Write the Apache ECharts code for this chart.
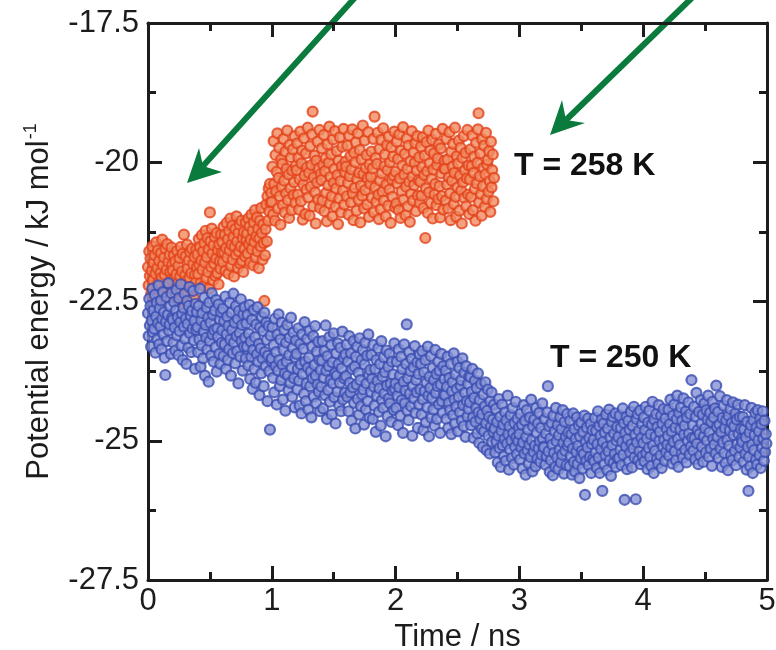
<!DOCTYPE html>
<html>
<head>
<meta charset="utf-8">
<script src="https://cdn.jsdelivr.net/npm/echarts@6/dist/echarts.min.js"></script>
<style>
  html, body { margin: 0; padding: 0; background: #ffffff; }
  #chart { width: 776px; height: 650px; }
</style>
</head>
<body>
<div id="chart"></div>
<script>
// Potential energy per molecule along two MD trajectories (frames every 0.005 ns)
const frameStep = 0.005; // ns

// T = 258 K trajectory, kJ/mol
const energy258_0to1 = [
  -21.88,-22.21,-21.6,-22.04,-21.73,-22.37,-21.95,-21.51,-22.12,-21.81,
  -22.43,-21.67,-22.0,-21.44,-22.28,-21.9,-21.58,-22.16,-21.77,-22.49,
  -21.99,-21.63,-22.08,-21.39,-21.85,-22.32,-21.71,-22.02,-21.55,-22.24,
  -21.93,-21.47,-22.19,-21.79,-22.4,-21.66,-21.97,-22.11,-21.53,-21.84,
  -21.94,-22.28,-21.67,-22.09,-21.78,-22.41,-22.01,-21.59,-22.18,-21.86,
  -22.47,-21.72,-22.05,-21.52,-22.33,-21.96,-21.64,-22.22,-21.3,-22.53,
  -22.03,-21.69,-22.14,-21.48,-21.91,-22.36,-21.76,-22.07,-21.61,-22.29,
  -21.99,-21.55,-22.25,-21.83,-22.44,-21.7,-22.02,-22.16,-21.57,-21.89,
  -21.65,-22.01,-21.38,-21.84,-21.52,-22.17,-21.76,-21.31,-21.93,-21.6,
  -22.22,-21.45,-21.8,-21.23,-22.08,-21.7,-21.36,-21.97,-21.56,-22.27,
  -20.9,-21.42,-21.88,-21.19,-21.64,-22.12,-21.49,-21.82,-21.34,-22.04,
  -21.73,-21.27,-21.99,-21.58,-22.19,-21.47,-21.78,-21.91,-21.3,-21.62,
  -21.43,-21.79,-21.16,-21.62,-21.3,-21.95,-21.54,-21.09,-21.71,-21.38,
  -22.0,-21.23,-21.58,-21.01,-21.86,-21.48,-21.14,-21.75,-21.34,-22.05,
  -21.52,-21.2,-21.66,-20.97,-21.42,-21.9,-21.27,-21.6,-21.12,-21.82,
  -21.51,-21.05,-21.77,-21.36,-21.97,-21.25,-21.56,-21.69,-21.08,-21.4,
  -21.28,-21.64,-21.01,-21.47,-21.15,-21.8,-21.39,-20.94,-21.56,-21.23,
  -21.85,-21.08,-21.43,-20.86,-21.71,-21.33,-20.99,-21.6,-21.19,-21.9,
  -21.37,-21.05,-21.51,-20.82,-21.27,-21.75,-21.12,-21.45,-22.49,-21.67,
  -21.2,-20.76,-21.42,-20.61,-21.05,-20.47,-20.88,-20.39,-20.72,-20.55
];
const energy258_1to2 = [
  -20.71,-20.08,-20.94,-19.62,-20.39,-21.05,-19.87,-20.52,-20.17,-19.48,
  -20.83,-20.28,-19.74,-20.61,-21.12,-19.95,-20.44,-20.03,-20.77,-19.58,
  -20.33,-20.9,-19.81,-20.56,-20.12,-19.43,-20.68,-20.22,-21.0,-19.69,
  -20.47,-19.91,-20.86,-20.15,-19.77,-20.59,-20.36,-19.53,-20.73,-20.06,
  -20.14,-19.66,-20.58,-19.92,-20.85,-20.31,-19.45,-20.7,-20.02,-19.79,
  -21.03,-20.4,-19.57,-20.24,-20.93,-19.84,-20.49,-20.09,-19.38,-20.63,
  -20.19,-20.96,-19.71,-20.44,-20.05,-19.5,-19.09,-20.79,-20.27,-19.88,
  -20.54,-21.1,-19.97,-20.36,-19.63,-20.67,-20.11,-19.42,-20.82,-20.21,
  -20.32,-19.75,-20.69,-20.04,-19.51,-20.88,-20.16,-19.93,-20.55,-21.06,
  -19.68,-20.41,-20.01,-19.36,-20.74,-20.26,-19.86,-20.61,-20.97,-19.59,
  -20.37,-20.12,-19.44,-20.8,-20.47,-19.8,-20.23,-21.11,-19.97,-20.65,
  -19.55,-20.34,-20.9,-20.07,-19.72,-20.51,-19.4,-20.76,-20.18,-19.99,
  -20.08,-20.61,-19.7,-20.37,-20.94,-19.52,-20.25,-19.89,-20.72,-20.13,
  -19.41,-20.56,-21.04,-19.83,-20.46,-20.0,-19.64,-20.87,-20.3,-19.48,
  -20.67,-20.19,-19.78,-21.08,-20.42,-19.95,-20.6,-19.34,-20.21,-20.83,
  -19.61,-20.5,-20.1,-19.87,-20.76,-20.29,-19.46,-20.98,-20.04,-20.39,
  -20.26,-19.81,-20.64,-20.11,-19.58,-20.9,-19.18,-20.45,-19.92,-20.71,
  -20.03,-19.47,-20.58,-21.02,-19.76,-20.33,-20.84,-19.6,-20.2,-20.53,
  -19.39,-20.69,-20.07,-19.86,-20.97,-20.4,-19.69,-20.14,-20.78,-19.54,
  -20.49,-20.0,-21.09,-19.73,-20.31,-20.62,-19.9,-20.24,-19.45,-20.81
];
const energy258_2to3 = [
  -20.17,-20.74,-19.63,-20.38,-19.94,-20.86,-19.5,-20.29,-21.0,-19.79,
  -20.52,-20.06,-19.37,-20.67,-20.22,-19.85,-20.95,-20.44,-19.57,-20.12,
  -20.79,-19.7,-20.35,-21.07,-19.98,-20.57,-19.44,-20.26,-20.69,-19.82,
  -20.41,-20.01,-19.66,-20.88,-20.15,-19.53,-20.6,-20.32,-19.91,-20.73,
  -20.35,-19.72,-20.6,-20.09,-19.55,-20.82,-20.23,-19.88,-21.36,-20.47,
  -19.64,-20.16,-20.91,-19.43,-20.54,-20.02,-19.79,-20.73,-20.3,-19.6,
  -21.01,-20.13,-19.84,-20.58,-20.39,-19.49,-20.77,-20.05,-19.93,-20.66,
  -19.68,-20.43,-20.99,-19.75,-20.2,-20.61,-19.4,-20.85,-20.11,-19.97,
  -20.12,-20.69,-19.58,-20.4,-19.95,-20.83,-20.27,-19.46,-20.56,-21.04,
  -19.81,-20.33,-20.08,-19.67,-20.75,-20.19,-19.38,-20.62,-20.98,-19.89,
  -20.45,-20.02,-19.61,-20.87,-20.24,-19.74,-20.51,-21.1,-19.92,-20.36,
  -19.53,-20.64,-20.15,-19.83,-20.79,-20.29,-19.42,-20.58,-20.06,-20.93,
  -20.31,-19.77,-20.62,-20.07,-19.52,-20.86,-20.19,-19.9,-20.48,-21.05,
  -19.65,-20.38,-20.01,-19.41,-19.12,-20.72,-20.25,-19.84,-20.57,-20.96,
  -19.59,-20.43,-20.1,-19.7,-20.8,-20.22,-19.47,-20.66,-20.04,-19.96,
  -20.53,-19.8,-20.34,-20.89,-19.63,-20.45,-20.14,-19.86,-20.7,-20.28
];

// T = 250 K trajectory, kJ/mol
const energy250_0to1 = [
  -22.71,-23.12,-22.45,-22.93,-22.58,-23.31,-22.84,-22.27,-23.05,-22.66,
  -22.99,-22.38,-23.42,-22.77,-22.52,-23.18,-22.89,-22.21,-23.27,-22.62,
  -22.95,-22.48,-23.36,-22.81,-22.33,-23.09,-22.69,-23.51,-23.82,-22.87,
  -22.42,-23.21,-22.74,-22.17,-23.02,-22.91,-22.59,-23.44,-22.35,-22.79,
  -22.83,-23.24,-22.51,-22.97,-23.38,-22.66,-22.29,-23.11,-22.78,-23.46,
  -22.44,-23.03,-22.87,-22.19,-23.29,-22.72,-23.55,-22.61,-22.95,-22.36,
  -23.17,-22.81,-23.62,-22.49,-22.9,-23.33,-22.58,-22.24,-23.07,-22.76,
  -23.41,-22.67,-22.99,-22.31,-23.2,-22.85,-23.71,-22.54,-23.01,-22.69,
  -22.96,-23.41,-22.58,-23.18,-22.27,-23.67,-22.84,-23.29,-22.71,-23.52,
  -23.04,-22.43,-23.83,-22.92,-23.15,-22.61,-23.36,-22.79,-23.94,-22.52,
  -23.21,-22.88,-23.47,-22.35,-23.09,-22.74,-23.58,-23.01,-22.66,-23.32,
  -22.47,-23.76,-22.98,-23.13,-22.55,-23.44,-22.82,-23.62,-22.69,-23.24,
  -23.02,-22.63,-23.48,-22.85,-23.27,-22.41,-23.71,-23.09,-22.77,-23.55,
  -22.94,-23.36,-22.52,-23.18,-23.83,-22.7,-23.01,-23.43,-22.36,-23.24,
  -22.88,-23.61,-22.58,-23.12,-23.39,-22.81,-23.97,-22.67,-23.06,-23.49,
  -22.46,-23.21,-22.92,-23.74,-22.73,-23.31,-22.6,-23.15,-23.52,-22.89,
  -23.31,-22.74,-23.65,-23.08,-22.56,-23.89,-23.22,-23.49,-22.83,-24.07,
  -23.37,-22.65,-23.71,-23.14,-23.96,-22.91,-23.45,-22.6,-23.58,-23.26,
  -24.18,-22.97,-23.34,-23.79,-22.78,-23.52,-23.03,-24.02,-22.7,-23.41,
  -23.66,-22.88,-23.19,-24.29,-23.47,-22.94,-23.75,-24.8,-23.11,-23.57
];
const energy250_1to2 = [
  -23.52,-22.96,-23.87,-23.28,-24.13,-22.81,-23.66,-23.41,-24.35,-23.09,
  -23.74,-22.73,-23.55,-24.02,-23.18,-23.91,-22.88,-23.63,-24.26,-23.37,
  -23.01,-23.79,-24.46,-23.24,-23.58,-22.92,-23.83,-24.09,-23.46,-23.15,
  -23.96,-22.79,-23.69,-24.21,-23.33,-23.06,-23.88,-24.4,-23.5,-23.2,
  -23.44,-24.08,-23.71,-22.98,-23.92,-24.37,-23.26,-23.63,-24.51,-23.09,
  -23.8,-23.35,-24.16,-22.87,-23.58,-24.29,-23.97,-23.17,-23.69,-24.44,
  -23.51,-23.03,-24.02,-23.76,-24.58,-23.31,-23.88,-23.12,-24.21,-23.64,
  -22.94,-23.83,-24.33,-23.4,-23.99,-23.22,-24.12,-23.55,-24.47,-23.73,
  -24.03,-23.56,-23.21,-24.42,-23.87,-23.39,-24.18,-22.93,-23.74,-24.61,
  -23.48,-24.09,-23.66,-23.14,-24.3,-23.91,-23.28,-24.53,-23.59,-23.97,
  -23.07,-24.22,-23.79,-24.69,-23.43,-23.83,-24.12,-23.25,-23.62,-24.37,
  -23.96,-23.33,-24.47,-23.7,-23.04,-24.26,-23.51,-23.88,-24.14,-23.45,
  -23.84,-23.27,-24.21,-23.58,-24.47,-23.12,-23.96,-24.13,-23.43,-24.64,
  -23.71,-24.04,-23.21,-24.32,-23.67,-24.78,-23.49,-23.99,-23.31,-24.25,
  -23.78,-24.53,-23.16,-23.91,-24.38,-23.55,-24.17,-23.37,-24.08,-24.71,
  -23.63,-23.24,-24.44,-23.97,-23.47,-24.29,-23.09,-23.82,-24.59,-23.73,
  -24.12,-23.46,-23.89,-24.61,-23.28,-24.03,-24.37,-23.71,-24.84,-23.55,
  -24.19,-23.93,-23.34,-24.48,-24.06,-23.62,-24.73,-23.21,-24.27,-23.85,
  -24.41,-23.5,-24.15,-23.77,-24.92,-23.38,-24.01,-24.56,-23.67,-24.24,
  -23.44,-24.33,-23.98,-24.66,-23.58,-24.1,-23.81,-24.45,-23.25,-24.07
];
const energy250_2to3 = [
  -23.97,-24.41,-23.58,-24.19,-24.72,-23.36,-24.04,-23.83,-24.55,-23.49,
  -24.27,-23.71,-24.86,-23.94,-23.27,-24.33,-24.1,-23.62,-22.91,-24.46,
  -23.88,-24.63,-23.41,-24.15,-23.75,-24.38,-23.53,-24.91,-24.02,-23.68,
  -24.24,-23.3,-24.5,-23.91,-24.13,-23.59,-24.77,-23.8,-24.35,-23.45,
  -24.08,-23.62,-24.53,-23.39,-24.26,-24.81,-23.77,-24.11,-23.55,-24.67,
  -23.96,-24.4,-23.31,-24.19,-24.92,-23.85,-24.05,-23.48,-24.59,-24.23,
  -23.69,-24.44,-23.91,-24.73,-23.37,-24.14,-23.8,-24.61,-24.02,-23.58,
  -24.35,-23.74,-24.86,-23.99,-23.44,-24.29,-24.5,-23.66,-24.17,-23.89,
  -24.18,-23.74,-24.61,-24.03,-23.49,-24.77,-24.32,-23.87,-24.45,-23.62,
  -24.88,-24.11,-23.95,-24.54,-23.43,-24.26,-24.69,-23.81,-24.39,-24.07,
  -23.58,-24.83,-24.21,-23.69,-24.49,-24.01,-23.91,-24.64,-23.52,-24.36,
  -24.74,-23.78,-24.14,-24.93,-23.66,-24.29,-24.56,-23.98,-24.43,-23.84,
  -24.31,-23.86,-24.72,-24.12,-23.71,-24.58,-24.95,-24.23,-23.92,-24.66,
  -24.41,-24.05,-24.87,-23.79,-24.49,-25.04,-24.27,-24.61,-23.98,-24.79,
  -24.52,-25.11,-24.17,-24.83,-24.38,-23.95,-24.69,-25.17,-24.46,-24.08,
  -24.91,-24.57,-25.23,-24.29,-24.74,-24.13,-25.02,-24.62,-24.84,-24.35,
  -24.78,-25.21,-24.43,-25.02,-24.66,-25.39,-24.91,-24.25,-25.13,-24.57,
  -25.47,-24.82,-24.35,-25.08,-24.71,-25.28,-24.97,-24.49,-25.36,-24.63,
  -25.05,-24.19,-24.88,-25.52,-24.74,-25.16,-24.54,-24.99,-25.31,-24.41,
  -24.86,-25.43,-24.68,-25.11,-24.3,-24.94,-25.24,-24.6,-25.01,-24.77
];
const energy250_3to4 = [
  -24.88,-25.34,-24.52,-25.12,-24.71,-25.5,-25.03,-24.36,-25.23,-24.64,
  -25.61,-24.93,-24.45,-25.17,-24.8,-25.41,-25.07,-24.58,-25.29,-24.26,
  -24.99,-25.55,-24.74,-25.2,-24.62,-25.09,-25.46,-24.41,-24.86,-25.32,
  -24.69,-25.14,-24.5,-25.01,-25.38,-24.77,-25.25,-24.33,-24.96,-25.11,
  -25.12,-24.61,-25.43,-24.87,-25.28,-24.49,-24.02,-25.19,-24.74,-25.56,
  -24.96,-25.35,-24.68,-25.07,-25.62,-24.55,-25.22,-24.83,-25.47,-24.41,
  -25.01,-25.3,-24.72,-25.51,-24.9,-25.16,-24.58,-25.39,-24.79,-25.25,
  -24.45,-25.04,-25.59,-24.66,-25.18,-24.93,-25.44,-24.52,-25.09,-24.85,
  -25.03,-25.46,-24.64,-25.27,-24.88,-25.61,-25.14,-24.51,-25.38,-24.79,
  -25.55,-24.97,-25.2,-24.58,-25.42,-25.09,-24.72,-25.67,-24.92,-25.31,
  -24.67,-25.18,-25.5,-24.84,-25.24,-24.55,-25.97,-25.02,-25.36,-24.76,
  -25.12,-24.6,-25.44,-24.95,-25.29,-24.7,-25.58,-25.06,-24.81,-25.33,
  -24.98,-25.37,-24.59,-25.21,-24.82,-25.49,-25.06,-24.47,-25.3,-24.73,
  -25.58,-24.91,-25.15,-24.62,-25.9,-25.02,-24.69,-25.42,-24.85,-25.26,
  -24.53,-25.11,-25.53,-24.78,-25.19,-24.44,-25.35,-24.94,-25.63,-24.66,
  -25.08,-24.57,-25.4,-24.87,-25.24,-24.51,-25.47,-25.0,-24.75,-25.32,
  -24.93,-25.31,-24.55,-25.16,-24.77,-25.44,-25.02,-24.42,-25.25,-24.68,
  -26.06,-24.86,-25.1,-24.57,-25.51,-24.97,-24.64,-25.37,-24.8,-25.21,
  -24.48,-25.06,-25.48,-24.73,-25.14,-24.39,-25.3,-24.89,-26.05,-24.61,
  -25.03,-24.52,-25.35,-24.82,-25.19,-24.46,-25.42,-24.95,-24.7,-25.27
];
const energy250_4to5 = [
  -25.04,-24.58,-25.37,-24.81,-24.39,-25.22,-24.96,-25.51,-24.67,-25.13,
  -24.46,-25.29,-24.88,-25.45,-24.71,-24.3,-25.08,-25.58,-24.62,-25.18,
  -24.92,-24.52,-25.33,-24.75,-25.41,-24.36,-25.0,-24.84,-25.26,-24.55,
  -25.49,-24.69,-25.11,-24.43,-24.98,-25.36,-24.6,-25.2,-24.79,-25.07,
  -24.91,-24.44,-25.27,-24.7,-24.26,-25.12,-24.83,-25.41,-24.55,-25.02,
  -24.35,-25.19,-24.76,-25.35,-24.61,-24.19,-24.97,-25.47,-24.5,-25.08,
  -24.8,-24.4,-25.23,-24.64,-25.31,-24.24,-24.89,-24.73,-25.16,-24.47,
  -25.39,-24.58,-25.0,-24.31,-24.87,-25.25,-24.52,-25.1,-23.91,-24.95,
  -24.72,-25.18,-24.39,-24.96,-25.33,-24.57,-24.14,-25.05,-24.81,-25.42,
  -24.48,-24.88,-25.26,-24.27,-24.69,-25.11,-24.53,-25.38,-24.92,-24.33,
  -24.78,-25.21,-24.45,-25.0,-24.62,-24.19,-25.29,-24.85,-24.5,-25.14,
  -24.66,-25.45,-24.3,-24.97,-24.58,-25.07,-24.42,-25.23,-24.01,-24.75,
  -24.93,-24.48,-25.31,-24.71,-24.2,-25.14,-24.84,-25.47,-24.59,-25.03,
  -24.37,-25.22,-24.77,-25.4,-24.63,-24.27,-24.99,-25.53,-24.55,-25.09,
  -24.81,-24.43,-25.26,-24.68,-25.35,-24.31,-24.9,-24.74,-25.18,-24.51,
  -25.44,-24.62,-25.06,-24.35,-24.88,-25.29,-24.57,-25.12,-24.79,-24.97,
  -25.02,-24.57,-25.38,-24.8,-24.36,-25.23,-24.94,-25.52,-24.66,-25.11,
  -25.9,-25.29,-24.85,-25.46,-24.72,-24.41,-25.07,-25.58,-24.63,-25.17,
  -24.9,-24.5,-25.34,-24.76,-25.43,-24.45,-24.99,-24.83,-25.25,-24.6,
  -25.49,-24.7,-25.13,-24.47,-24.96,-25.36,-24.64,-25.2,-24.88,-25.05
];

const seriesLabels = ['T = 258 K', 'T = 250 K'];

const energy258 = [].concat(energy258_0to1, energy258_1to2, energy258_2to3);
const energy250 = [].concat(energy250_0to1, energy250_1to2, energy250_2to3, energy250_3to4, energy250_4to5);

function framesToPoints(values) {
  return values.map((e, i) => [Number((i * frameStep).toFixed(3)), e]);
}

const FONT = '"Liberation Sans", Arial, Helvetica, sans-serif';
const INK = '#1c1c1c';
const ARROW_GREEN = '#0a7a3d';

const chart = echarts.init(document.getElementById('chart'), null, { renderer: 'canvas' });

const frameLine = { show: true, onZero: false, lineStyle: { color: INK, width: 3 } };
const majorTick = { show: true, inside: true, length: 14, lineStyle: { color: INK, width: 3 } };
const minorTick = { show: true, splitNumber: 2, length: 8, lineStyle: { color: INK, width: 3 } };

function arrow(tail, tip, wingA, wingB, notch) {
  return {
    type: 'group',
    silent: true,
    children: [
      { type: 'line', shape: { x1: tail[0], y1: tail[1], x2: notch[0], y2: notch[1] },
        style: { stroke: ARROW_GREEN, lineWidth: 6 } },
      { type: 'polygon', shape: { points: [tip, wingA, notch, wingB] },
        style: { fill: ARROW_GREEN } }
    ]
  };
}

chart.setOption({
  animation: false,
  backgroundColor: '#ffffff',
  textStyle: { fontFamily: FONT },
  grid: { left: 148, right: 9, top: 23, bottom: 70, outerBoundsMode: 'none', containLabel: false },
  xAxis: [
    {
      type: 'value', position: 'bottom', min: 0, max: 5, interval: 1,
      axisLine: frameLine, axisTick: majorTick, minorTick: minorTick,
      splitLine: { show: false }, minorSplitLine: { show: false },
      axisLabel: { color: INK, fontSize: 31, fontFamily: FONT, margin: 6 },
      name: 'Time / ns', nameLocation: 'middle', nameGap: 29,
      nameTextStyle: { color: INK, fontSize: 31, fontFamily: FONT }
    },
    {
      type: 'value', position: 'top', min: 0, max: 5, interval: 1,
      axisLine: frameLine, axisTick: majorTick, minorTick: minorTick,
      splitLine: { show: false }, axisLabel: { show: false }
    }
  ],
  yAxis: [
    {
      type: 'value', position: 'left', min: -27.5, max: -17.5, interval: 2.5,
      axisLine: frameLine, axisTick: majorTick, minorTick: minorTick,
      splitLine: { show: false }, minorSplitLine: { show: false },
      axisLabel: { color: INK, fontSize: 31, fontFamily: FONT, margin: 9 },
      name: '{n|Potential energy / kJ mol}{s|-1}',
      nameLocation: 'middle', nameRotate: 90, nameGap: 92,
      nameTextStyle: {
        color: INK, fontFamily: FONT,
        rich: {
          n: { fontSize: 31, color: INK, fontFamily: FONT },
          s: { fontSize: 18, color: INK, fontFamily: FONT, padding: [0, 0, 16, 1] }
        }
      }
    },
    {
      type: 'value', position: 'right', min: -27.5, max: -17.5, interval: 2.5,
      axisLine: frameLine, axisTick: majorTick, minorTick: minorTick,
      splitLine: { show: false }, axisLabel: { show: false }
    }
  ],
  series: [
    {
      name: seriesLabels[0], type: 'scatter', xAxisIndex: 0, yAxisIndex: 0,
      data: framesToPoints(energy258), symbol: 'circle', symbolSize: 10,
      itemStyle: { color: '#f08a5f', borderColor: '#e3421a', borderWidth: 2.2 },
      z: 2, large: false
    },
    {
      name: seriesLabels[1], type: 'scatter', xAxisIndex: 0, yAxisIndex: 0,
      data: framesToPoints(energy250), symbol: 'circle', symbolSize: 10,
      itemStyle: { color: '#8491d4', borderColor: '#3b4db1', borderWidth: 2.2 },
      z: 3, large: false
    }
  ],
  graphic: [
    { type: 'text', left: 514, top: 150, z: 10, silent: true,
      style: { text: seriesLabels[0], font: 'bold 32px ' + FONT, fill: '#111' } },
    { type: 'text', left: 550, top: 342, z: 10, silent: true,
      style: { text: seriesLabels[1], font: 'bold 32px ' + FONT, fill: '#111' } },
    arrow([360, -8], [187, 183], [199, 148], [222, 172], [203, 166]),
    arrow([698, -8], [550, 135], [562, 100], [585, 123], [566, 120])
  ]
});
</script>
</body>
</html>
